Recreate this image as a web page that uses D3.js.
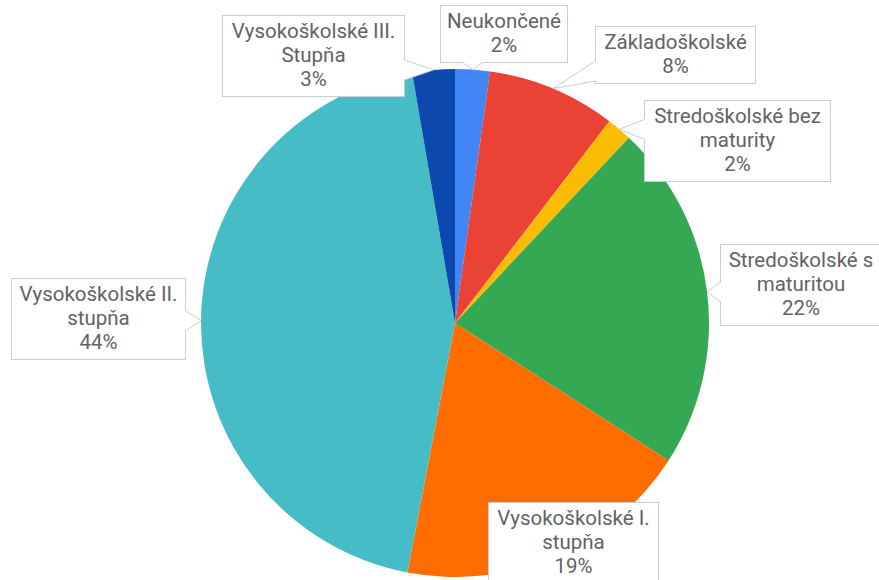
<!DOCTYPE html>
<html>
<head>
<meta charset="utf-8">
<script src="https://cdn.jsdelivr.net/npm/d3@7"></script>
<style>
  body { margin: 0; background: #fff; }
  svg { display: block; }
</style>
</head>
<body>
<div id="chart"></div>
<script>
let svgWidth = 879;
let svgHeight = 580;

// data
let categories = [
  "Neukončené",
  "Základoškolské",
  "Stredoškolské bez maturity",
  "Stredoškolské s maturitou",
  "Vysokoškolské I. stupňa",
  "Vysokoškolské II. stupňa",
  "Vysokoškolské III. Stupňa"
];
let shares = [2.2, 8.2, 1.6, 22.1, 18.9, 44.3, 2.7];
let colors = ["#4285f4", "#ea4335", "#fbbc04", "#34a853", "#ff6d01", "#46bdc6", "#0c48ae"];

// callout boxes: left, top, width (layout only)
let boxes = [
  {x: 440, y: 5,   w: 127},
  {x: 595, y: 26,  w: 160},
  {x: 644, y: 100, w: 186},
  {x: 720, y: 244, w: 161},
  {x: 488, y: 502, w: 170},
  {x: 11,  y: 278, w: 174},
  {x: 222, y: 15,  w: 182}
];

let cx = 455, cy = 323, radius = 254;
let fontSize = 20.5, lineH = 24;

let svg = d3.select("#chart")
  .append("svg")
  .attr("width", svgWidth)
  .attr("height", svgHeight);

let pie = d3.pie().sort(null).value(d => d);
let arcs = pie(shares);

let arc = d3.arc().innerRadius(0).outerRadius(radius);

let pieGroup = svg.append("g")
  .attr("transform", `translate(${cx}, ${cy})`);

pieGroup.selectAll("path")
  .data(arcs)
  .enter()
  .append("path")
  .attr("d", arc)
  .attr("fill", (d, i) => colors[i]);

let total = d3.sum(shares);
let labelGroup = svg.append("g");

// wraps words to fit the box width
function wrapLines(text, maxW) {
  let probe = labelGroup.append("text")
    .attr("font-family", "Roboto, Arial, sans-serif")
    .attr("font-size", fontSize);
  let words = text.split(" ");
  let lines = [];
  let cur = "";
  words.forEach(w => {
    let test = cur ? cur + " " + w : w;
    probe.text(test);
    if (probe.node().getComputedTextLength() > maxW && cur) {
      lines.push(cur);
      cur = w;
    } else {
      cur = test;
    }
  });
  lines.push(cur);
  probe.remove();
  return lines;
}

arcs.forEach((a, i) => {
  let b = boxes[i];
  let lines = wrapLines(categories[i], b.w - 4);
  lines.push(Math.round(shares[i] / total * 100) + "%");
  let h = lines.length * lineH + 9;

  let mid = (a.startAngle + a.endAngle) / 2;
  let ax = cx + radius * Math.sin(mid);
  let ay = cy - radius * Math.cos(mid);

  let g = labelGroup.append("g");

  g.append("rect")
    .attr("x", b.x + 0.5)
    .attr("y", b.y + 0.5)
    .attr("width", b.w)
    .attr("height", h)
    .attr("fill", "#fff")
    .attr("stroke", "#cccccc")
    .attr("stroke-width", 1);

  // tail from the nearest box edge to the slice
  let inside = ax > b.x && ax < b.x + b.w && ay > b.y && ay < b.y + h;
  if (!inside) {
    let p1, p2, q1, q2;
    let half = 10;
    if (ax > b.x + b.w || ax < b.x) {
      let ex = ax > b.x + b.w ? b.x + b.w + 0.5 : b.x + 0.5;
      let ey = Math.max(b.y + half + 2, Math.min(b.y + h - half - 2, ay));
      p1 = [ex, ey - half]; p2 = [ex, ey + half];
      let inset = ax > b.x + b.w ? -1.5 : 1.5;
      q1 = [ex + inset, ey - half]; q2 = [ex + inset, ey + half];
    } else {
      let ey = ay > b.y + h ? b.y + h + 0.5 : b.y + 0.5;
      let ex = Math.max(b.x + half + 2, Math.min(b.x + b.w - half - 2, ax));
      p1 = [ex - half, ey]; p2 = [ex + half, ey];
      let inset = ay > b.y + h ? -1.5 : 1.5;
      q1 = [ex - half, ey + inset]; q2 = [ex + half, ey + inset];
    }
    g.append("path")
      .attr("d", d3.line()([q1, p1, [ax, ay], p2, q2]))
      .attr("fill", "#fff")
      .attr("stroke", "none");
    g.append("path")
      .attr("d", d3.line()([p1, [ax, ay], p2]))
      .attr("fill", "none")
      .attr("stroke", "#cccccc")
      .attr("stroke-width", 1);
  }

  let t = g.append("text")
    .attr("font-family", "Roboto, Arial, sans-serif")
    .attr("font-size", fontSize)
    .attr("fill", "#636363")
    .attr("text-anchor", "middle");

  lines.forEach((ln, k) => {
    t.append("tspan")
      .attr("x", b.x + b.w / 2 + 0.5)
      .attr("y", b.y + 23 + lineH * k)
      .text(ln);
  });
});
</script>
</body>
</html>
